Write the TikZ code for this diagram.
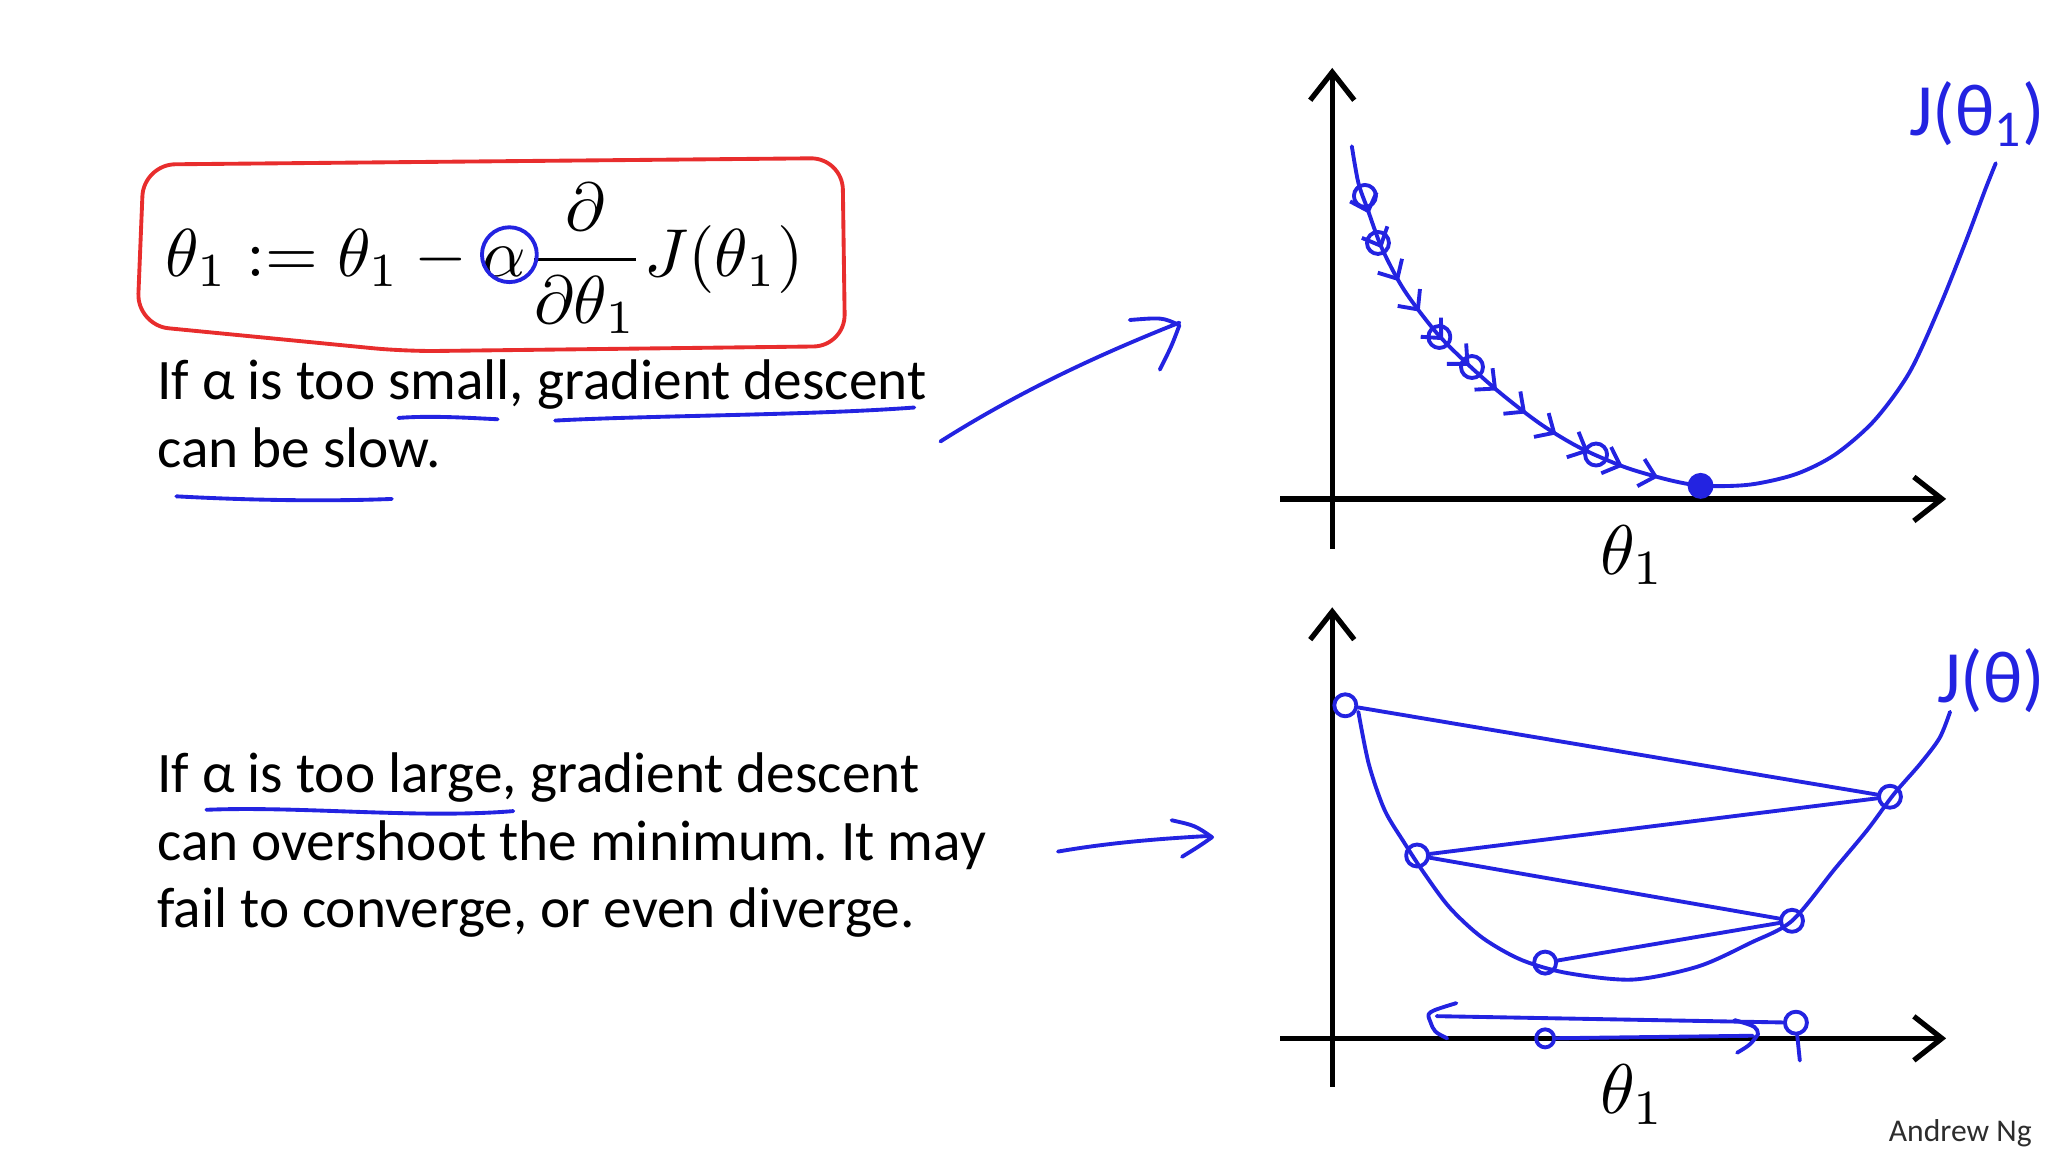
\documentclass[tikz,border=0pt]{standalone}
\usepackage[no-math]{fontspec}
\newfontfamily\slidefont{Carlito}
\usetikzlibrary{arrows.meta,decorations.markings}
\definecolor{penblue}{RGB}{35,35,225}
\definecolor{penred}{RGB}{232,45,45}
\definecolor{inkgray}{RGB}{45,45,45}
\tikzset{
  axis/.style={line width=1.5pt, -{Straight Barb[length=2.8mm,width=4.4mm]}},
  ink/.style={penblue, line width=1.1pt, line cap=round, line join=round},
  slide/.style={font=\slidefont\fontsize{16.3}{19.7}\selectfont\frenchspacing, anchor=base west, inner sep=0pt},
  pen/.style={text=penblue, font=\slidefont\fontsize{21}{24}\selectfont, anchor=north east, inner sep=0pt},
  stepdot/.style={ink, circle, draw, inner sep=0pt, minimum size=2.2mm}
}
\begin{document}
\begin{tikzpicture}[x=0.013061cm, y=-0.013061cm]
 \useasboundingbox (0,0) rectangle (1568,882);

 % update rule in its red box
 \node[scale=1.93] (rule) at (371,198) {$\displaystyle \theta_1 := \theta_1 - \alpha \frac{\partial}{\partial\theta_1} J(\theta_1)$};
 \draw [penred, line width=1.1pt, rounded corners=9] (110,126) -- (645,121) -- (647,265) -- (310,269) -- (105,249) -- cycle;
 \draw [ink] (390,195) circle [radius=21];

 % the two remarks
 \node[slide] (small1) at (120,306) {If α is too small, gradient descent};
 \node[slide] (small2) at (120,358) {can be slow.};
 \node[slide] (large1) at (120,607) {If α is too large, gradient descent};
 \node[slide] (large2) at (120,659) {can overshoot the minimum. It may};
 \node[slide] (large3) at (120,710) {fail to converge, or even diverge.};
 \draw [ink] (305,320) .. controls (330,318) and (360,320) .. (381,321);
 \draw [ink] (425,322) .. controls (500,318) and (620,318) .. (700,312);
 \draw [ink] (135,380) .. controls (190,383) and (250,384) .. (300,382);
 \draw [ink] (158,620) .. controls (230,617) and (320,627) .. (393,621);

 % pointers to the plots
 \draw [ink] (720,338) .. controls (780,300) and (840,272) .. (903,247);
 \draw [ink] (865,245) .. controls (890,243) .. (903,249) .. controls (897,265) .. (888,283);
 \draw [ink] (810,652) .. controls (850,645) and (890,642) .. (926,640);
 \draw [ink] (897,628) .. controls (915,632) .. (928,641) .. controls (918,648) .. (905,656);

 % small step size
 \draw [axis] (1020,420) -- (1020,52);
 \draw [axis] (980,382) -- (1490,382);
 \node[scale=2] (th1) at (1250,425) {$\theta_1$};
 \node[pen] (j1) at (1566,62) {J(θ\textsubscript{1})};
 \draw [ink, postaction={decorate, decoration={markings,
    mark=between positions 0.07 and 0.48 step 0.037 with {\arrow{Straight Barb[length=1.5mm,width=2.8mm]}}}}]
   plot [smooth] coordinates {(1035,112) (1040,140) (1047,160) (1058,190) (1075,222) (1100,255)
   (1125,280) (1150,302) (1180,325) (1210,343) (1245,358) (1280,368) (1305,372) (1340,371)
   (1375,363) (1405,348) (1435,322) (1462,285) (1485,235) (1505,185) (1520,145) (1528,125)};
 \foreach \p in {(1045,150),(1055,186),(1102,258),(1127,281),(1222,348)}
   \node[stepdot] at \p {};
 \node[stepdot, fill=penblue] (min1) at (1302,372) {};

 % large step size
 \draw [axis] (1020,832) -- (1020,465);
 \draw [axis] (980,795) -- (1490,795);
 \node[scale=2] (th2) at (1250,838) {$\theta_1$};
 \node[pen] (j2) at (1566,496) {J(θ)};
 \draw [ink] plot [smooth] coordinates {(1040,545) (1048,585) (1060,620) (1075,645) (1090,668)
   (1110,695) (1135,718) (1165,735) (1200,745) (1250,750) (1300,740) (1340,722) (1372,705)
   (1405,665) (1430,635) (1450,608) (1470,585) (1485,565) (1493,545)};
 \node[stepdot] (p0) at (1030,540) {};
 \node[stepdot] (p1) at (1447,610) {};
 \node[stepdot] (p2) at (1085,655) {};
 \node[stepdot] (p3) at (1372,705) {};
 \node[stepdot] (p4) at (1183,737) {};
 \draw [ink] (p0) -- (p1);
 \draw [ink] (p1) -- (p2);
 \draw [ink] (p2) -- (p3);
 \draw [ink] (p3) -- (p4);
 % back and forth along the axis
 \node[stepdot, minimum size=1.8mm] (q1) at (1183,795) {};
 \node[stepdot] (q2) at (1375,783) {};
 \draw [ink] (q2) -- (1100,778);
 \draw [ink] (1115,768) .. controls (1092,775) .. (1095,782) .. controls (1098,790) .. (1108,795);
 \draw [ink] (q1) -- (1342,793);
 \draw [ink] (1328,781) .. controls (1345,786) .. (1346,792) .. controls (1340,800) .. (1330,806);
 \draw [ink] (q2) -- (1378,812);

 \node[font=\slidefont\fontsize{9}{11}\selectfont, text=inkgray, anchor=base east] (credit) at (1565,874) {Andrew Ng};
\end{tikzpicture}
\end{document}
